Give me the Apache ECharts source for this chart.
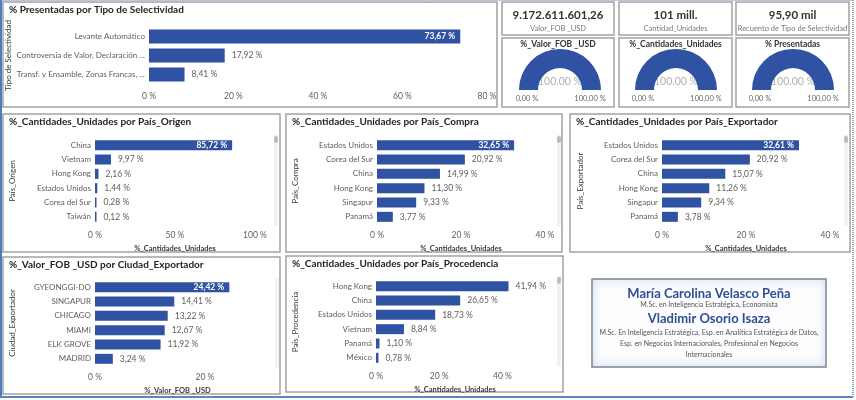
<!DOCTYPE html>
<html>
<head>
<meta charset="utf-8">
<script src="https://cdn.jsdelivr.net/npm/echarts@6/dist/echarts.min.js"></script>
<style>
  html, body { margin: 0; padding: 0; background: #fff; }
  #dash { width: 856px; height: 400px; }
</style>
</head>
<body>
<div id="dash"></div>
<script>
var selCats = ['Levante Automático', 'Controversia de Valor, Declaración ...', 'Transf. y Ensamble, Zonas Francas, ...'];
var selVals = [73.67, 17.92, 8.41];
var origenCats = ['China', 'Vietnam', 'Hong Kong', 'Estados Unidos', 'Corea del Sur', 'Taiwán'];
var origenVals = [85.72, 9.97, 2.16, 1.44, 0.28, 0.12];
var compraCats = ['Estados Unidos', 'Corea del Sur', 'China', 'Hong Kong', 'Singapur', 'Panamá'];
var compraVals = [32.65, 20.92, 14.99, 11.30, 9.33, 3.77];
var exportCats = ['Estados Unidos', 'Corea del Sur', 'China', 'Hong Kong', 'Singapur', 'Panamá'];
var exportVals = [32.61, 20.92, 15.07, 11.26, 9.34, 3.78];
var ciudadCats = ['GYEONGGI-DO', 'SINGAPUR', 'CHICAGO', 'MIAMI', 'ELK GROVE', 'MADRID'];
var ciudadVals = [24.42, 14.41, 13.22, 12.67, 11.92, 3.24];
var procCats = ['Hong Kong', 'China', 'Estados Unidos', 'Vietnam', 'Panamá', 'México'];
var procVals = [41.94, 26.65, 18.73, 8.84, 1.10, 0.78];

var cardValues = ['9.172.611.601,26', '101 mill.', '95,90 mil'];
var cardNames = ['Valor_FOB _USD', 'Cantidad_Unidades', 'Recuento de Tipo de Selectividad'];
var gaugeNames = ['%_Valor_FOB _USD', '%_Cantidades_Unidades', '% Presentadas'];
var gaugeVals = [100, 100, 100];
var gaugeMin = ['0,00 %', '0,00 %', '0,00 %'];
var gaugeMax = ['100,00 %', '100,00 %', '100,00 %'];

var BLUE = '#2f52a2';
var FONT = 'Lato, "Open Sans", sans-serif';
var GREY = '#605e5c';

function pct(v) { return v.toFixed(2).replace('.', ',') + ' %'; }

var grids = [], xAxes = [], yAxes = [], series = [], graphics = [];

function barPanel(cats, vals, c) {
  var idx = grids.length;
  grids.push({ left: c.left, top: c.top, width: c.width, height: c.height, containLabel: false });
  xAxes.push({
    gridIndex: idx, type: 'value', min: 0, max: c.max, interval: c.interval,
    axisLine: { show: false }, axisTick: { show: false }, splitLine: { show: false },
    axisLabel: { color: GREY, fontFamily: FONT, fontSize: 8.5, margin: c.labelMargin || 8,
      showMaxLabel: !c.hideMax, formatter: function (v) { return v + ' %'; } },
    name: c.xName || '', nameLocation: 'middle', nameGap: c.xNameGap || 20,
    nameTextStyle: { color: '#3b3a39', fontFamily: FONT, fontSize: 7.5, fontWeight: 'bold' }
  });
  yAxes.push({
    gridIndex: idx, type: 'category', data: cats, inverse: true,
    axisLine: { show: false }, axisTick: { show: false },
    axisLabel: { color: GREY, fontFamily: FONT, fontSize: 8, margin: 4 },
    name: c.yName, nameLocation: 'middle', nameGap: c.yGap,
    nameTextStyle: { color: '#3b3a39', fontFamily: FONT, fontSize: 8 }
  });
  series.push({
    type: 'bar', xAxisIndex: idx, yAxisIndex: idx, barWidth: c.barW, barMinHeight: 1.5,
    itemStyle: { color: BLUE },
    label: { show: true, position: 'right', distance: 7, color: GREY, fontFamily: FONT, fontSize: 8.5,
      formatter: function (p) { return pct(p.value); } },
    data: vals.map(function (v, k) {
      if (k === 0 && c.insideFirst) {
        return { value: v, label: { position: 'insideRight', distance: 5, color: '#fff', fontWeight: 'bold' } };
      }
      return v;
    })
  });
}

function panel(x, y, w, h, title) {
  graphics.push({ type: 'rect', z: -1, shape: { x: x, y: y, width: w, height: h },
    style: { fill: '#fff', stroke: '#a3a3a3', lineWidth: 1.5 } });
  if (title) {
    graphics.push({ type: 'text', style: { text: title, x: x + 6, y: y + 8, fill: '#252423',
      font: 'bold 10px ' + FONT, textVerticalAlign: 'middle' } });
  }
}

function scrollbar(x, y, h, thumb) {
  graphics.push({ type: 'rect', shape: { x: x, y: y, width: 4, height: h }, style: { fill: '#f2f2f2' } });
  if (thumb) graphics.push({ type: 'rect', shape: { x: x, y: y + 1, width: 4, height: 7, r: 2 }, style: { fill: '#bdbdbd' } });
}

// marco exterior
graphics.push({ type: 'line', shape: { x1: 1, y1: 0.5, x2: 852, y2: 0.5 }, style: { stroke: '#b8cbe6', lineWidth: 1 } });
graphics.push({ type: 'line', shape: { x1: 1, y1: 0, x2: 1, y2: 398 }, style: { stroke: '#4f7cc0', lineWidth: 2 } });
graphics.push({ type: 'line', shape: { x1: 0, y1: 397, x2: 853, y2: 397 }, style: { stroke: '#5a84c3', lineWidth: 2 } });
graphics.push({ type: 'line', shape: { x1: 853, y1: 0, x2: 853, y2: 398 }, style: { stroke: '#9aa3ad', lineWidth: 2, lineDash: [1, 1] } });

// paneles
panel(3, 2, 494, 105, '% Presentadas por Tipo de Selectividad');
panel(3, 114, 277, 138, '%_Cantidades_Unidades por País_Origen');
panel(286, 114, 276, 138, '%_Cantidades_Unidades por País_Compra');
panel(570, 114, 280, 138, '%_Cantidades_Unidades por País_Exportador');
panel(3, 257, 277, 137, '%_Valor_FOB _USD por Ciudad_Exportador');
panel(286, 256, 277, 136, '%_Cantidades_Unidades por País_Procedencia');

scrollbar(274, 135, 91, true);
scrollbar(557, 135, 91, true);
scrollbar(844, 135, 91, true);
scrollbar(275, 278, 90, false);
scrollbar(557, 276, 90, true);

barPanel(selCats, selVals, { left: 149, top: 27, width: 338, height: 57, max: 80, interval: 20, barW: 14,
  yName: 'Tipo de Selectividad', yGap: 133, insideFirst: true, labelMargin: 8 });
barPanel(origenCats, origenVals, { left: 95, top: 138, width: 160, height: 86, max: 100, interval: 50, barW: 10,
  yName: 'País_Origen', yGap: 79, xName: '%_Cantidades_Unidades', xNameGap: 21, insideFirst: true, labelMargin: 7 });
barPanel(compraCats, compraVals, { left: 377, top: 138, width: 168, height: 86, max: 40, interval: 20, barW: 10,
  yName: 'País_Compra', yGap: 78, xName: '%_Cantidades_Unidades', xNameGap: 21, insideFirst: true, labelMargin: 7 });
barPanel(exportCats, exportVals, { left: 662, top: 138, width: 168, height: 86, max: 40, interval: 20, barW: 10,
  yName: 'País_Exportador', yGap: 78, xName: '%_Cantidades_Unidades', xNameGap: 21, insideFirst: true, labelMargin: 7 });
barPanel(ciudadCats, ciudadVals, { left: 95, top: 280, width: 165, height: 86, max: 30, interval: 20, barW: 10,
  yName: 'Ciudad_Exportador', yGap: 79, xName: '%_Valor_FOB _USD', xNameGap: 21, insideFirst: true, hideMax: true, labelMargin: 7 });
barPanel(procCats, procVals, { left: 376, top: 279, width: 158, height: 86, max: 50, interval: 20, barW: 10,
  yName: 'País_Procedencia', yGap: 77, xName: '%_Cantidades_Unidades', xNameGap: 21, insideFirst: false, hideMax: true, labelMargin: 7 });

// tarjetas y medidores
var cardX = [502, 619, 736];
var cardW = [112, 113, 113];
var gaugeCx = [560, 676, 793];
cardValues.forEach(function (val, i) {
  var cx = cardX[i] + cardW[i] / 2;
  panel(cardX[i], 2, cardW[i], 33);
  panel(cardX[i], 38, cardW[i], 69);
  graphics.push({ type: 'text', style: { text: val, x: cx, y: 15, fill: '#333', font: 'bold 11.5px ' + FONT,
    textAlign: 'center', textVerticalAlign: 'middle' } });
  graphics.push({ type: 'text', style: { text: cardNames[i], x: cx, y: 29, fill: '#7a7a7a', font: '7.5px ' + FONT,
    textAlign: 'center', textVerticalAlign: 'middle' } });
  graphics.push({ type: 'text', style: { text: gaugeNames[i], x: cx, y: 44, fill: '#333', font: 'bold 8.5px ' + FONT,
    textAlign: 'center', textVerticalAlign: 'middle' } });
  graphics.push({ type: 'text', style: { text: gaugeMin[i], x: gaugeCx[i] - 33, y: 99, fill: '#666', font: '7.5px ' + FONT,
    textAlign: 'center', textVerticalAlign: 'middle' } });
  graphics.push({ type: 'text', style: { text: gaugeMax[i], x: gaugeCx[i] + 30, y: 99, fill: '#666', font: '7.5px ' + FONT,
    textAlign: 'center', textVerticalAlign: 'middle' } });
  series.push({
    type: 'gauge', center: [gaugeCx[i], 90], radius: 41, startAngle: 180, endAngle: 0, min: 0, max: 100,
    progress: { show: true, width: 19, itemStyle: { color: BLUE } },
    axisLine: { lineStyle: { width: 19, color: [[1, '#e6e6e6']] } },
    pointer: { show: false }, anchor: { show: false }, axisTick: { show: false },
    splitLine: { show: false }, axisLabel: { show: false }, title: { show: false },
    detail: { offsetCenter: [0, -8], fontSize: 10.5, fontFamily: FONT, color: '#b0b0b0', fontWeight: 400,
      formatter: function (v) { return v.toFixed(2) + ' %'; } },
    data: [{ value: gaugeVals[i] }]
  });
});

// recuadro de autores
graphics.push({ type: 'rect', shape: { x: 592, y: 279, width: 234, height: 88 },
  style: { fill: { type: 'linear', x: 0, y: 0, x2: 0, y2: 1, colorStops: [
    { offset: 0, color: '#e4ebf7' }, { offset: 0.12, color: '#fdfdff' }, { offset: 0.88, color: '#fdfdff' }, { offset: 1, color: '#e1e9f6' }] },
    stroke: '#7d848d', lineWidth: 1.5 } });
graphics.push({ type: 'rect', shape: { x: 593, y: 280, width: 232, height: 86 }, silent: true,
  style: { fill: { type: 'linear', x: 0, y: 0, x2: 1, y2: 0, colorStops: [
    { offset: 0, color: 'rgba(215,227,245,0.7)' }, { offset: 0.05, color: 'rgba(255,255,255,0)' },
    { offset: 0.95, color: 'rgba(255,255,255,0)' }, { offset: 1, color: 'rgba(215,227,245,0.7)' }] } } });
var authorLines = [
  ['María Carolina Velasco Peña', 294, 'bold 13px ' + FONT, '#2d4f98'],
  ['M.Sc. en Inteligencia Estratégica, Economista', 305, '7px ' + FONT, '#555'],
  ['Vladimir Osorio Isaza', 319, 'bold 13px ' + FONT, '#2d4f98'],
  ['M.Sc. En Inteligencia Estratégica, Esp. en Analítica Estratégica de Datos,', 333, '7px ' + FONT, '#555'],
  ['Esp. en Negocios Internacionales, Profesional en Negocios', 344, '7px ' + FONT, '#555'],
  ['Internacionales', 355, '7px ' + FONT, '#555']
];
authorLines.forEach(function (l) {
  graphics.push({ type: 'text', style: { text: l[0], x: 709, y: l[1], font: l[2], fill: l[3],
    textAlign: 'center', textVerticalAlign: 'middle' } });
});

var chart = echarts.init(document.getElementById('dash'));
chart.setOption({
  backgroundColor: '#fff',
  animation: false,
  grid: grids,
  xAxis: xAxes,
  yAxis: yAxes,
  series: series,
  graphic: graphics
});
</script>
</body>
</html>
